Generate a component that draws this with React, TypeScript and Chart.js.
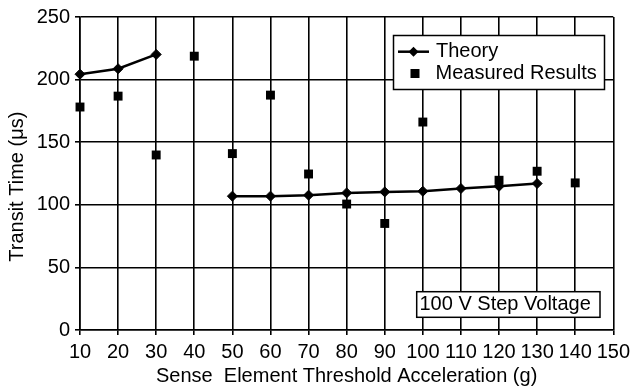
import React, { useEffect, useRef } from 'react';
import { Chart, registerables } from 'chart.js';

Chart.register(...registerables);

const accelerations = [10, 20, 30, 40, 50, 60, 70, 80, 90, 100, 110, 120, 130, 140];
const theoryTimes: (number | null)[] = [204.3, 208.7, 220.1, null, 106.9, 106.9, 107.7, 109.5, 110.3, 110.8, 113.0, 114.8, 117.0, null];
const measuredTimes: (number | null)[] = [178.1, 186.8, 139.8, 218.7, 140.9, 187.6, 124.6, 100.6, 85.1, 166.1, null, 119.6, 126.8, 117.5];
const xTickValues = [10, 20, 30, 40, 50, 60, 70, 80, 90, 100, 110, 120, 130, 140, 150];
const yTickValues = [0, 50, 100, 150, 200, 250];
const seriesLabels = ['Theory', 'Measured Results'];
const annotationText = '100 V Step Voltage';
const xTitle = 'Sense  Element Threshold Acceleration (g)';
const yTitle = 'Transit Time (\u03bcs)';

const FAMILY = "'Liberation Sans', Arial, Helvetica, sans-serif";
const FONT = { family: FAMILY, size: 20, lineHeight: 1.2 };

const overlayPlugin = {
  id: 'overlay',
  afterDraw(chart: any) {
    const ctx = chart.ctx as CanvasRenderingContext2D;
    ctx.save();
    ctx.font = `20px ${FAMILY}`;
    ctx.fillStyle = '#000';
    ctx.strokeStyle = '#000';

    // Y axis title
    ctx.save();
    ctx.translate(17.5, 186.7);
    ctx.rotate(-Math.PI / 2);
    ctx.textAlign = 'center';
    ctx.textBaseline = 'middle';
    ctx.fillText(yTitle, 0, 0);
    ctx.restore();

    // Legend box
    ctx.fillStyle = '#fff';
    ctx.fillRect(393.5, 35.5, 211, 54);
    ctx.lineWidth = 1.5;
    ctx.strokeRect(393.5, 35.5, 211, 54);
    ctx.fillStyle = '#000';
    // Theory symbol
    ctx.lineWidth = 2.5;
    ctx.beginPath();
    ctx.moveTo(398, 51.7);
    ctx.lineTo(429, 51.7);
    ctx.stroke();
    ctx.beginPath();
    ctx.moveTo(413.5 - 5, 51.7);
    ctx.lineTo(413.5, 51.7 - 5);
    ctx.lineTo(413.5 + 5, 51.7);
    ctx.lineTo(413.5, 51.7 + 5);
    ctx.closePath();
    ctx.fill();
    // Measured symbol
    ctx.fillRect(415 - 4.5, 73.5 - 4.5, 9, 9);
    ctx.textAlign = 'left';
    ctx.textBaseline = 'middle';
    ctx.fillText(seriesLabels[0], 436, 51.5);
    ctx.fillText(seriesLabels[1], 435.5, 73.2);

    // Annotation box
    ctx.fillStyle = '#fff';
    ctx.fillRect(416.7, 291.7, 183.3, 25.6);
    ctx.lineWidth = 1.5;
    ctx.strokeRect(416.7, 291.7, 183.3, 25.6);
    ctx.fillStyle = '#000';
    ctx.fillText(annotationText, 419.5, 304);
    ctx.restore();
  },
};

export default function App() {
  const canvasRef = useRef<HTMLCanvasElement | null>(null);

  useEffect(() => {
    if (!canvasRef.current) return;
    Chart.defaults.font.family = FAMILY;
    const chart = new Chart(canvasRef.current, {
      type: 'line',
      data: {
        datasets: [
          {
            label: seriesLabels[0],
            data: accelerations.map((x, i) => ({ x, y: theoryTimes[i] })) as any,
            borderColor: '#000',
            backgroundColor: '#000',
            borderWidth: 2.5,
            pointStyle: 'rectRot',
            pointRadius: 5,
            pointBorderWidth: 1,
            pointBackgroundColor: '#000',
            pointBorderColor: '#000',
            spanGaps: false,
            tension: 0,
            clip: false,
            order: 0,
          },
          {
            label: seriesLabels[1],
            data: accelerations.map((x, i) => ({ x, y: measuredTimes[i] })) as any,
            showLine: false,
            borderColor: '#000',
            backgroundColor: '#000',
            pointStyle: 'rect',
            pointRadius: 6.3,
            pointBorderWidth: 0,
            pointBackgroundColor: '#000',
            clip: false,
            order: 1,
          },
        ],
      },
      options: {
        responsive: false,
        animation: false,
        devicePixelRatio: 1,
        layout: { padding: { top: 16.7, right: 18.3, left: 0, bottom: 0 } },
        plugins: {
          legend: { display: false },
          tooltip: { enabled: false },
        },
        scales: {
          x: {
            type: 'linear',
            min: 10,
            max: 150,
            afterBuildTicks: (s: any) => {
              s.ticks = xTickValues.map((value) => ({ value }));
            },
            afterFit: (s: any) => {
              s.height = 60;
            },
            grid: { color: '#000', lineWidth: 1.6, tickLength: 5, tickColor: '#000', drawTicks: true },
            border: { color: '#000', width: 1.6 },
            ticks: { font: FONT, color: '#000', padding: 5, autoSkip: false, maxRotation: 0, minRotation: 0 },
            title: { display: true, text: xTitle, font: FONT, color: '#000', padding: { top: 0, bottom: 2 } },
          },
          y: {
            type: 'linear',
            min: 0,
            max: 250,
            afterBuildTicks: (s: any) => {
              s.ticks = yTickValues.map((value) => ({ value }));
            },
            afterFit: (s: any) => {
              s.width = 80;
            },
            grid: { color: '#000', lineWidth: 1.6, tickLength: 5, tickColor: '#000', drawTicks: true },
            border: { color: '#000', width: 1.6 },
            ticks: { font: FONT, color: '#000', padding: 5 },
          },
        },
      },
      plugins: [overlayPlugin],
    });
    return () => chart.destroy();
  }, []);

  return (
    <div style={{ position: 'absolute', left: 0, top: 0, width: 635, height: 390, background: '#fff' }}>
      <canvas ref={canvasRef} width={635} height={390} style={{ display: 'block' }} />
    </div>
  );
}
